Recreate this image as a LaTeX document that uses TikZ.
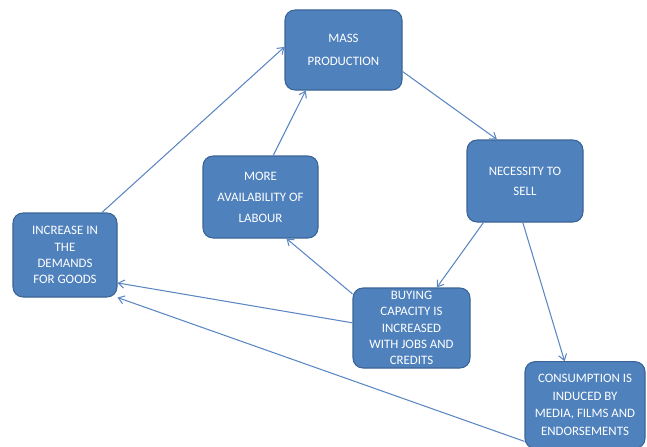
\documentclass[tikz,border=0pt]{standalone}
\usepackage{fontspec}
\setmainfont{Carlito}
\usetikzlibrary{arrows.meta}
\definecolor{boxFill}{HTML}{4F81BD}
\definecolor{boxLine}{HTML}{3A6496}
\definecolor{arrowBlue}{HTML}{5B87C2}

\begin{document}
\begin{tikzpicture}[x=0.03cm, y=-0.03cm,
    box/.style={draw=boxLine, line width=0.9pt, fill=boxFill, rounded corners=0.3cm,
        text=white, align=center, inner sep=1pt,
        font=\fontsize{11}{13.8}\selectfont},
    link/.style={arrowBlue, line width=0.9pt, -{Straight Barb[length=5pt, width=7pt]}}]
    \useasboundingbox (0,0) rectangle (647,446);

    % Boxes
    \node[box, minimum width=3.51cm, minimum height=2.4cm, font=\fontsize{11}{20}\selectfont] (mass) at (343.5,50) {MASS\\PRODUCTION};
    \node[box, minimum width=3.45cm, minimum height=2.46cm, font=\fontsize{11}{18}\selectfont] (more) at (260.5,197) {MORE\\AVAILABILITY OF\\LABOUR};
    \node[box, minimum width=3.48cm, minimum height=2.46cm, font=\fontsize{11}{17}\selectfont] (need) at (525,181) {NECESSITY TO\\SELL};
    \node[box, minimum width=3.12cm, minimum height=2.52cm] (inc) at (65,255) {INCREASE IN\\THE\\DEMANDS\\FOR GOODS};
    \node[box, minimum width=3.51cm, minimum height=2.4cm] (buy) at (411.5,328) {BUYING\\CAPACITY IS\\INCREASED\\WITH JOBS AND\\CREDITS};
    \node[box, minimum width=3.6cm, minimum height=2.6cm, font=\fontsize{11}{15}\selectfont] (cons) at (585,405) {CONSUMPTION IS\\INDUCED BY\\MEDIA, FILMS AND\\ENDORSEMENTS};

    % Arrows
    \draw[link] (inc.49) -- (mass.177);
    \draw[link] (more.73) -- (mass.227);
    \draw[link] (mass.-20) -- (need.124);
    \draw[link] (need.225) -- (buy.58);
    \draw[link] (need.267) -- (cons.115);
    \draw[link] (buy.150) -- (more.302);
    \draw[link] (buy.175) -- (inc.332);
    \draw[link] (cons.211) -- (inc.321);
\end{tikzpicture}
\end{document}
